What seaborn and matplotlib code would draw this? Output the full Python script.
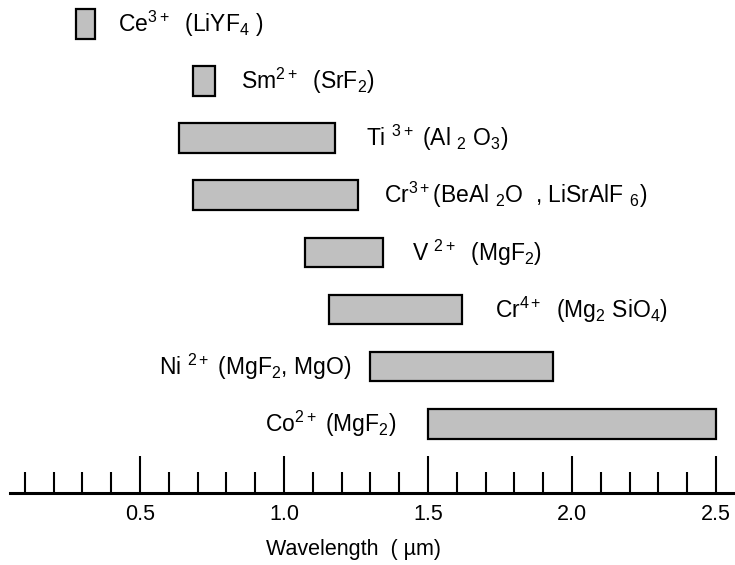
import matplotlib
matplotlib.use("Agg")
import matplotlib.pyplot as plt
import seaborn as sns
import pandas as pd
import numpy as np

# ---- data ----
ions = ["Ce3+", "Sm2+", "Ti3+", "Cr3+", "V2+", "Cr4+", "Ni2+", "Co2+"]
labels = [
    r"Ce$^{3+}$  (LiYF$_4$ )",
    r"Sm$^{2+}$  (SrF$_2$)",
    r"Ti $^{3+}$ (Al $_2$ O$_3$)",
    r"Cr$^{3+}$(BeAl $_2$O  , LiSrAlF $_6$)",
    r"V $^{2+}$  (MgF$_2$)",
    r"Cr$^{4+}$  (Mg$_2$ SiO$_4$)",
    r"Ni $^{2+}$ (MgF$_2$, MgO)",
    r"Co$^{2+}$ (MgF$_2$)",
]
start_um = [0.278, 0.684, 0.635, 0.684, 1.073, 1.156, 1.298, 1.500]
end_um = [0.344, 0.760, 1.177, 1.257, 1.343, 1.618, 1.934, 2.500]
major_ticks = [0.5, 1.0, 1.5, 2.0, 2.5]
major_labels = ["0.5", "1.0", "1.5", "2.0", "2.5"]
minor_ticks = [0.1, 0.2, 0.3, 0.4, 0.6, 0.7, 0.8, 0.9, 1.1, 1.2, 1.3, 1.4,
               1.6, 1.7, 1.8, 1.9, 2.1, 2.2, 2.3, 2.4]

df = pd.DataFrame({"ion": ions, "start": start_um, "end": end_um})
df["width"] = df["end"] - df["start"]

# label placement (style only)
label_side = ["right"] * 6 + ["left"] * 2
label_gap_px = [23, 26, 31, 26, 29, 33, 18, 32]

sns.set_style("white")
plt.rcParams["font.family"] = ["Liberation Sans", "DejaVu Sans"]
plt.rcParams["mathtext.fontset"] = "custom"
plt.rcParams["mathtext.rm"] = "Liberation Sans"
plt.rcParams["mathtext.it"] = "Liberation Sans"
plt.rcParams["mathtext.bf"] = "Liberation Sans:bold"
plt.rcParams["text.color"] = "black"
plt.rcParams["xtick.color"] = "black"
plt.rcParams["axes.labelcolor"] = "black"

W, H = 735, 565
fig = plt.figure(figsize=(W / 100, H / 100), dpi=100)
axis_y_px = 493
ax = fig.add_axes([10 / W, (H - axis_y_px) / H, (W - 10) / W, axis_y_px / H])

sns.barplot(data=df, x="width", y="ion", orient="h", ax=ax,
            color="#c0c0c0", saturation=1, edgecolor="black",
            linewidth=1.6, width=0.52)
for patch, s in zip(ax.patches, df["start"]):
    patch.set_x(s)

ax.set_xlim((10 + 4) / 288, (W + 4) / 288)
row_px = 57.1
ax.set_ylim((axis_y_px - 24) / row_px, -24 / row_px)

FS_LAB = 16.5
FS = 15.5
for i, (lab, side, gap) in enumerate(zip(labels, label_side, label_gap_px)):
    if side == "right":
        ax.annotate(lab, xy=(df["end"][i], i), xytext=(gap * 0.72, 0),
                    textcoords="offset points", ha="left", va="center",
                    fontsize=FS_LAB)
    else:
        ax.annotate(lab, xy=(df["start"][i], i), xytext=(-gap * 0.72, 0),
                    textcoords="offset points", ha="right", va="center",
                    fontsize=FS_LAB)

for sp in ["left", "top", "right"]:
    ax.spines[sp].set_visible(False)
ax.spines["bottom"].set_linewidth(2.2)
ax.spines["bottom"].set_color("black")

ax.set_yticks([])
ax.set_ylabel("")
ax.set_xticks(major_ticks)
ax.set_xticklabels(major_labels)
ax.set_xticks(minor_ticks, minor=True)
ax.tick_params(axis="x", which="major", direction="in", length=26.5,
               width=1.5, color="black", pad=8, labelsize=FS, bottom=True)
ax.tick_params(axis="x", which="minor", direction="in", length=15,
               width=1.5, color="black", bottom=True)
ax.set_xlabel("Wavelength  ( µm)", fontsize=FS)
ax.xaxis.set_label_coords((353 - 10) / (W - 10), -57 / axis_y_px)
ax.xaxis.label.set_va("center")

fig.savefig("out.png", dpi=100)
